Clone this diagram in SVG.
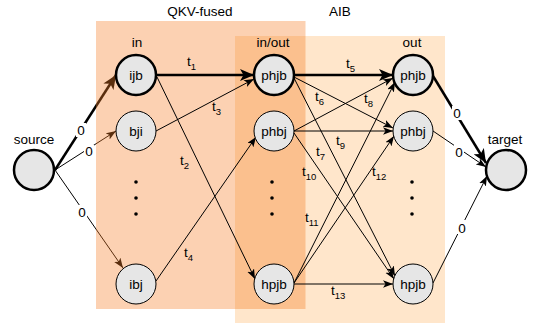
<svg xmlns="http://www.w3.org/2000/svg" width="537" height="328" viewBox="0 0 537 328">
<style>
text{font-family:"Liberation Sans",Arial,Helvetica,sans-serif;font-size:13.5px;fill:#000}
.c{text-anchor:middle}
.n{fill:#e6e6e6;stroke:#000;stroke-width:1}
.nt{fill:#e6e6e6;stroke:#000;stroke-width:2.5}
.e{stroke:#000;stroke-width:1;fill:none;marker-end:url(#a)}
.et{stroke:#000;stroke-width:2.5;fill:none;marker-end:url(#at)}
.sb{font-size:9.5px}
.lb{fill:#fff}
</style>
<defs>
<marker id="a" markerUnits="userSpaceOnUse" markerWidth="11" markerHeight="8" refX="10" refY="3.75" orient="auto"><path d="M0,0 L10,3.75 L0,7.5 L2.5,3.75 Z" fill="#000"/></marker>
<marker id="at" markerUnits="userSpaceOnUse" markerWidth="15" markerHeight="12" refX="14" refY="6" orient="auto"><path d="M0,0 L14,6 L0,12 L3.5,6 Z" fill="#000"/></marker>
<marker id="ab" markerUnits="userSpaceOnUse" markerWidth="11" markerHeight="8" refX="10" refY="3.75" orient="auto"><path d="M0,0 L10,3.75 L0,7.5 L2.5,3.75 Z" fill="#5a2e0e"/></marker>
<marker id="abt" markerUnits="userSpaceOnUse" markerWidth="15" markerHeight="12" refX="14" refY="6" orient="auto"><path d="M0,0 L14,6 L0,12 L3.5,6 Z" fill="#5a2e0e"/></marker>
<linearGradient id="sg" gradientUnits="userSpaceOnUse" x1="0" y1="0" x2="192" y2="0">
<stop offset="0" stop-color="#000"/><stop offset="0.5" stop-color="#000"/><stop offset="0.5" stop-color="#5a2e0e"/><stop offset="1" stop-color="#5a2e0e"/>
</linearGradient>
</defs>
<g id="regions">
<rect x="96" y="21" width="209.5" height="288" fill="#fcd1b2"/>
<rect x="235" y="36" width="210" height="287" fill="#ffe6cb"/>
<rect x="235" y="36" width="70.5" height="273" fill="#fbc08e"/>
<text class="c" x="200" y="16">QKV-fused</text>
<text class="c" x="340" y="16">AIB</text>
<text class="c" x="137" y="47">in</text>
<text class="c" x="273" y="47">in/out</text>
<text class="c" x="412" y="47">out</text>
</g>
<g id="connectors">
<line x1="55" y1="170" x2="116" y2="75" stroke="url(#sg)" stroke-width="2.5" marker-end="url(#abt)"/>
<line x1="55" y1="170" x2="116" y2="131" stroke="url(#sg)" stroke-width="1" marker-end="url(#ab)"/>
<line x1="55" y1="170" x2="123" y2="268" stroke="url(#sg)" stroke-width="1" marker-end="url(#ab)"/>
<rect class="lb" x="76" y="123" width="10" height="14"/><text class="c" x="81" y="135">0</text>
<rect class="lb" x="84" y="145" width="10" height="13"/><text class="c" x="89" y="156">0</text>
<rect class="lb" x="77" y="205" width="10" height="14"/><text class="c" x="82" y="217">0</text>
<line class="et" x1="157" y1="75" x2="254" y2="75"/>
<line class="e" x1="157" y1="77" x2="255" y2="279"/>
<line class="e" x1="156" y1="131" x2="254" y2="79"/>
<line class="e" x1="156" y1="281" x2="256" y2="137"/>
<line class="et" x1="295" y1="75" x2="393" y2="75"/>
<line class="e" x1="294" y1="77" x2="393" y2="128"/>
<line class="e" x1="294" y1="78" x2="395" y2="276"/>
<line class="e" x1="294" y1="131" x2="393" y2="78"/>
<line class="e" x1="294" y1="131" x2="393" y2="131"/>
<line class="e" x1="294" y1="133" x2="394" y2="279"/>
<line class="e" x1="294" y1="283" x2="395" y2="82"/>
<line class="e" x1="294" y1="283" x2="394" y2="136"/>
<line class="e" x1="294" y1="284" x2="393" y2="284"/>
<line class="et" x1="433" y1="76" x2="486" y2="163"/>
<line class="e" x1="433" y1="131" x2="486" y2="167"/>
<line class="e" x1="433" y1="283" x2="487" y2="176"/>
<rect class="lb" x="452" y="106" width="10" height="14"/><text class="c" x="457" y="118">0</text>
<rect class="lb" x="454" y="145" width="10" height="13"/><text class="c" x="459" y="156.5">0</text>
<rect class="lb" x="457" y="220" width="10" height="14"/><text class="c" x="462" y="232.5">0</text>
<text x="187" y="66">t<tspan class="sb" dy="4">1</tspan></text>
<text x="180" y="165">t<tspan class="sb" dy="4">2</tspan></text>
<text x="212" y="111">t<tspan class="sb" dy="4">3</tspan></text>
<text x="184" y="257">t<tspan class="sb" dy="4">4</tspan></text>
<text x="346" y="68">t<tspan class="sb" dy="4">5</tspan></text>
<text x="315" y="101">t<tspan class="sb" dy="4">6</tspan></text>
<text x="316" y="156">t<tspan class="sb" dy="4">7</tspan></text>
<text x="364" y="103">t<tspan class="sb" dy="4">8</tspan></text>
<text x="336" y="145">t<tspan class="sb" dy="4">9</tspan></text>
<text x="302" y="176">t<tspan class="sb" dy="4">10</tspan></text>
<text x="305" y="222">t<tspan class="sb" dy="4">11</tspan></text>
<text x="372" y="176">t<tspan class="sb" dy="4">12</tspan></text>
<text x="331" y="295">t<tspan class="sb" dy="4">13</tspan></text>
</g>
<g id="dots" fill="#000">
<circle cx="136" cy="182" r="1.8"/><circle cx="136" cy="198" r="1.8"/><circle cx="136" cy="214" r="1.8"/>
<circle cx="272" cy="182" r="1.8"/><circle cx="272" cy="198" r="1.8"/><circle cx="272" cy="214" r="1.8"/>
<circle cx="412" cy="182" r="1.8"/><circle cx="412" cy="198" r="1.8"/><circle cx="412" cy="214" r="1.8"/>
</g>
<g id="source"><circle class="nt" cx="34" cy="170" r="20"/><text class="c" x="34" y="144">source</text></g>
<g id="target"><circle class="nt" cx="506" cy="170" r="20"/><text class="c" x="505" y="143.5">target</text></g>
<g id="in-ijb"><circle class="nt" cx="136" cy="75" r="20"/><text class="c" x="136" y="80">ijb</text></g>
<g id="in-bji"><circle class="n" cx="136" cy="131" r="20"/><text class="c" x="136" y="136">bji</text></g>
<g id="in-ibj"><circle class="n" cx="136" cy="284" r="20"/><text class="c" x="136" y="289">ibj</text></g>
<g id="io-phjb"><circle class="nt" cx="274" cy="75" r="20"/><text class="c" x="274" y="80">phjb</text></g>
<g id="io-phbj"><circle class="n" cx="274" cy="131" r="20"/><text class="c" x="274" y="136">phbj</text></g>
<g id="io-hpjb"><circle class="n" cx="274" cy="284" r="20"/><text class="c" x="274" y="289">hpjb</text></g>
<g id="out-phjb"><circle class="nt" cx="413" cy="75" r="20"/><text class="c" x="413" y="80">phjb</text></g>
<g id="out-phbj"><circle class="n" cx="413" cy="131" r="20"/><text class="c" x="413" y="136">phbj</text></g>
<g id="out-hpjb"><circle class="n" cx="413" cy="284" r="20"/><text class="c" x="413" y="289">hpjb</text></g>
</svg>
